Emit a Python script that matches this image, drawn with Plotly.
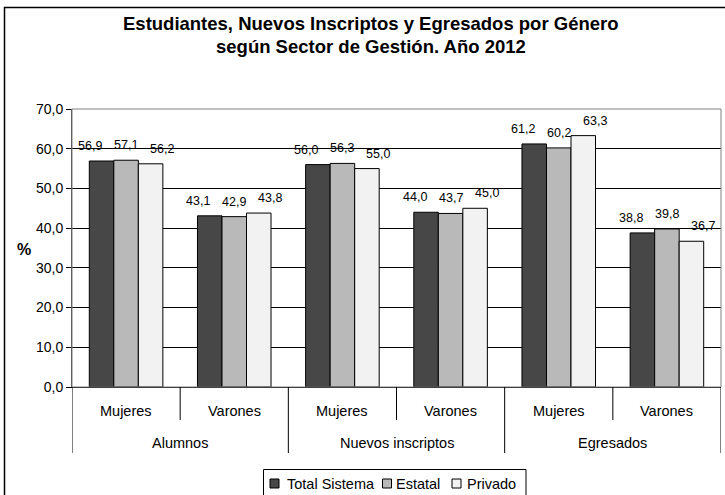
import plotly.graph_objects as go

# Data
groups = ["Alumnos", "Nuevos inscriptos", "Egresados"]
genders = ["Mujeres", "Varones"]
series_names = ["Total Sistema", "Estatal", "Privado"]
total_sistema = [56.9, 43.1, 56.0, 44.0, 61.2, 38.8]
estatal = [57.1, 42.9, 56.3, 43.7, 60.2, 39.8]
privado = [56.2, 43.8, 55.0, 45.0, 63.3, 36.7]
y_ticks = [0, 10, 20, 30, 40, 50, 60, 70]

series_values = [total_sistema, estatal, privado]
series_colors = ["#474747", "#b9b9b9", "#f2f2f2"]

categories = [f"{g} - {s}" for g in groups for s in genders]

W, H = 725, 495
L, R, T, B = 72, 4, 109, 108
PW, PH = W - L - R, H - T - B
FONT = "Liberation Sans, Arial, sans-serif"
BLACK = "#000000"
LABEL_SPACING = 36  # horizontal distance between value labels of one cluster (px)


def px(x):
    return (x - L) / PW


def py(y):
    return (H - B - y) / PH


def text_at(x, y, text, size, xanchor="center", bold=False, xref="paper"):
    return dict(x=x, y=y, xref=xref, yref="paper",
                text=f"<b>{text}</b>" if bold else text,
                xanchor=xanchor, yanchor="middle", showarrow=False,
                font=dict(family=FONT, size=size, color=BLACK))


fig = go.Figure()
annotations = []
for k, (name, vals, col) in enumerate(zip(series_names, series_values, series_colors)):
    fig.add_trace(go.Bar(
        x=categories, y=vals, name=name, showlegend=False,
        marker=dict(color=col, line=dict(color=BLACK, width=1)),
    ))
    # value labels, spread out a little so neighbours do not collide
    for c, v in zip(categories, vals):
        annotations.append(dict(
            x=c, y=v, xref="x", yref="y", text=f"{v:.1f}".replace(".", ","),
            showarrow=False, xanchor="center", yanchor="bottom", yshift=6,
            xshift=(k - 1) * LABEL_SPACING,
            font=dict(family=FONT, size=12.5, color=BLACK)))

shapes = []
# plot frame (grey) and outer chart border
shapes.append(dict(type="rect", xref="paper", yref="paper", x0=0, x1=1, y0=0, y1=1,
                   line=dict(color="#808080", width=1), layer="above"))
shapes.append(dict(type="rect", xref="paper", yref="paper",
                   x0=px(4.5), x1=px(740), y0=py(505), y1=py(7.5),
                   line=dict(color=BLACK, width=1.5)))
# category dividers below the axis
n = len(categories)
for i in range(n + 1):
    xpos = i - 0.5
    outer = (i % len(genders)) == 0
    shapes.append(dict(type="line", xref="x", yref="paper", x0=xpos, x1=xpos,
                       y0=0, y1=py(453 if outer else 420),
                       line=dict(color=BLACK, width=1)))

for i, c in enumerate(categories):
    annotations.append(text_at(i, py(411), genders[i % 2], 14.5, xref="x"))
for gi, g in enumerate(groups):
    annotations.append(text_at(gi * 2 + 0.5, py(443), g, 14.5, xref="x"))
# title lines
annotations.append(text_at(px(371), py(23.5),
                           "Estudiantes, Nuevos Inscriptos y Egresados por Género", 18.5, bold=True))
annotations.append(text_at(px(371), py(46.5), "según Sector de Gestión. Año 2012", 18.5, bold=True))
# y-axis title
annotations.append(text_at(px(24), py(249), "%", 16, bold=True))

# legend box with swatches
shapes.append(dict(type="rect", xref="paper", yref="paper",
                   x0=px(263.5), x1=px(526), y0=py(500), y1=py(469.5),
                   line=dict(color=BLACK, width=1), fillcolor="#ffffff"))
swatch_left = [270, 382.5, 452]
text_left = [285, 394, 464.5]
for name, col, sx, tx in zip(series_names, series_colors, swatch_left, text_left):
    shapes.append(dict(type="rect", xref="paper", yref="paper",
                       x0=px(sx), x1=px(sx + 9), y0=py(488), y1=py(479),
                       line=dict(color=BLACK, width=1), fillcolor=col))
    annotations.append(text_at(px(tx), py(484), name, 14.5, xanchor="left"))

fig.update_layout(
    width=W, height=H,
    margin=dict(l=L, r=R, t=T, b=B),
    paper_bgcolor="#ffffff", plot_bgcolor="#ffffff",
    separators=",.",
    barmode="group", bargap=0.32, bargroupgap=0,
    font=dict(family=FONT, size=12, color=BLACK),
    xaxis=dict(type="category", range=[-0.5, n - 0.5], showticklabels=False, ticks="",
               showline=True, linecolor=BLACK, linewidth=1, showgrid=False, zeroline=False),
    yaxis=dict(range=[0, 70], tickvals=y_ticks, tickformat=".1f", ticks="outside", ticklen=5,
               tickcolor=BLACK, showline=True, linecolor="#404040", linewidth=1,
               showgrid=True, gridcolor=BLACK, gridwidth=1, zeroline=False,
               tickfont=dict(family=FONT, size=14, color=BLACK)),
    shapes=shapes, annotations=annotations,
    showlegend=False,
)

fig.write_html("out.html")
